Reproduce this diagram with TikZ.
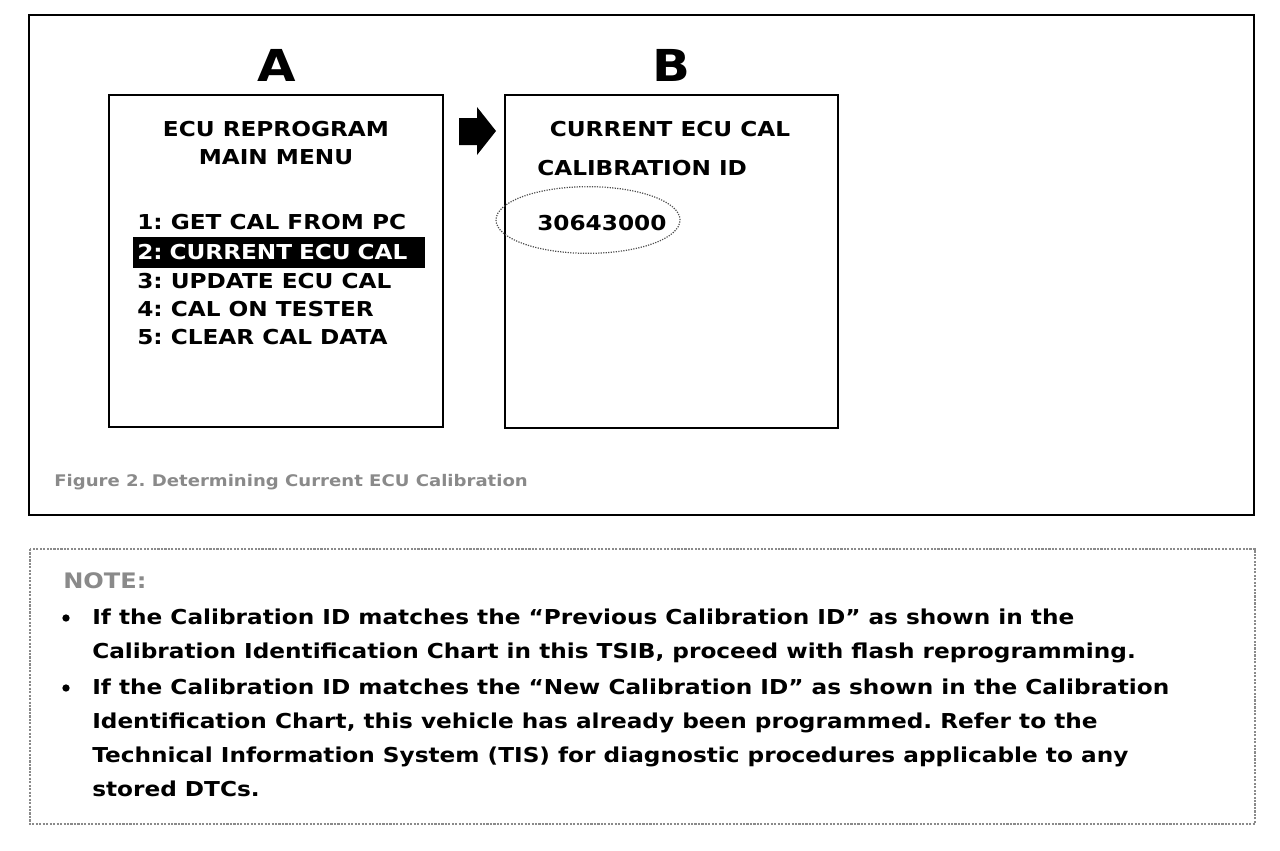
\documentclass[tikz,border=0pt]{standalone}
\usepackage{fontspec}
\setmainfont{DejaVu Sans}[FakeStretch=1.13]
\usepackage{tikz}
\usetikzlibrary{arrows.meta,shapes,shapes.geometric,calc}
\definecolor{ecuMute}{HTML}{8A8A8A}
\frenchspacing
\tikzset{
  frame/.style={draw=black, line width=1.5pt},
  screen/.style={draw=black, line width=1.5pt},
  notebox/.style={draw=ecuMute, line width=1.6pt, densely dotted},
  bigletter/.style={font=\fontsize{33}{33}\selectfont\bfseries, inner sep=0pt},
  scrtext/.style={font=\fontsize{15.4}{18}\selectfont\bfseries, inner sep=0pt},
  menuitem/.style={scrtext, anchor=west},
  selected/.style={menuitem, fill=black, text=white, inner xsep=3pt,
    text width=213pt, minimum height=23.25pt},
  caption/.style={font=\fontsize{12}{15}\selectfont\bfseries, text=ecuMute, anchor=base west, inner sep=0pt},
  notetext/.style={font=\fontsize{15.4}{25.5}\selectfont\bfseries, anchor=north west, align=left, inner sep=0pt},
  dotmark/.style={circle, fill=black, inner sep=0pt, minimum size=5.5pt},
  ringmark/.style={draw=black!70, densely dotted, line width=0.9pt, ellipse}
}
\begin{document}
\begin{tikzpicture}[x=0.75pt, y=-0.75pt]
  \useasboundingbox (0,0) rectangle (1280,850);
  % figure frame
  \draw[frame] (29,15) rectangle (1254,515);
  \node[bigletter] (labA) at (277,65) {A};
  \node[bigletter] (labB) at (671,65) {B};
  % screen A
  \draw[screen] (109,95) rectangle (443,427);
  \node[scrtext] (titleA) at (276,129) {ECU REPROGRAM};
  \node[scrtext] (titleA2) at (276,157) {MAIN MENU};
  \node[menuitem] (m1) at (137,222) {1: GET CAL FROM PC};
  \node[selected] (m2) at (133,252) {2: CURRENT ECU CAL};
  \node[menuitem] (m3) at (137,281) {3: UPDATE ECU CAL};
  \node[menuitem] (m4) at (137,309) {4: CAL ON TESTER};
  \node[menuitem] (m5) at (137,337) {5: CLEAR CAL DATA};
  % block arrow
  \fill[black] (459,118) -- (477,118) -- (477,107) -- (496,131) -- (477,155)
    -- (477,145) -- (459,145) -- cycle;
  % screen B
  \draw[screen] (505,95) rectangle (838,428);
  \node[scrtext] (titleB) at (670,129) {CURRENT ECU CAL};
  \node[menuitem] (calid) at (537,168) {CALIBRATION ID};
  \node[menuitem] (calno) at (537,223) {30643000};
  \node[ringmark, minimum width=138pt, minimum height=50pt] (ring) at (588,220) {};
  \node[caption] (cap) at (54,486) {Figure 2. Determining Current ECU Calibration};
  % note
  \draw[notebox] (30,549) rectangle (1255,824);
  \node[caption, font=\fontsize{16}{19}\selectfont\bfseries] (note) at (63,588) {NOTE:};
  \node[dotmark] (b1) at (66,618) {};
  \node[notetext] (t1) at (92,609) {If the Calibration ID matches the “Previous Calibration ID” as shown in the\\
    Calibration Identification Chart in this TSIB, proceed with flash reprogramming.};
  \node[dotmark] (b2) at (66,688) {};
  \node[notetext] (t2) at (92,679) {If the Calibration ID matches the “New Calibration ID” as shown in the Calibration\\
    Identification Chart, this vehicle has already been programmed. Refer to the\\
    Technical Information System (TIS) for diagnostic procedures applicable to any\\
    stored DTCs.};
\end{tikzpicture}
\end{document}
